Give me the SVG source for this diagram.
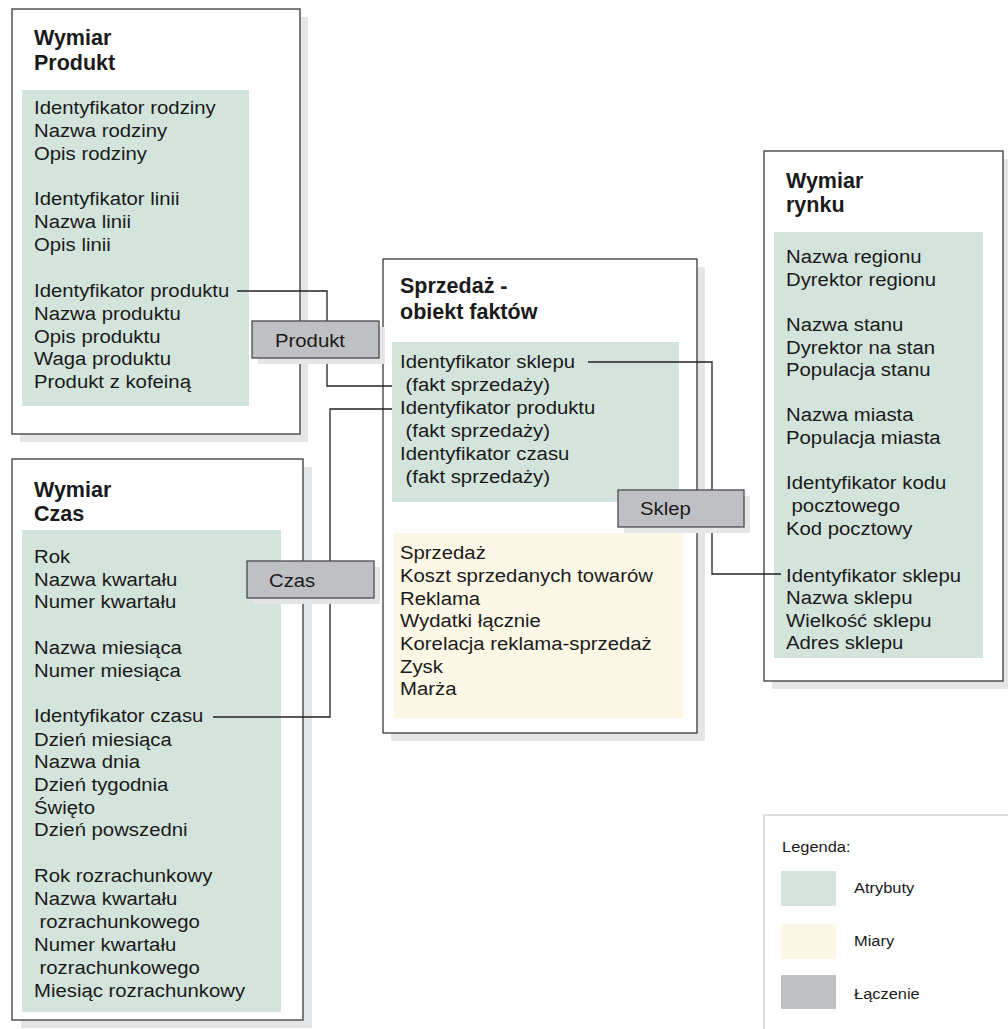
<svg xmlns="http://www.w3.org/2000/svg" width="1008" height="1029" viewBox="0 0 1008 1029">
<style>
.bg{fill:#ffffff}
.shadow{fill:#e4e5e7}
.box{fill:#ffffff;stroke:#3a3a3a;stroke-width:1.3}
.attr{fill:#d3e4dc}
.meas{fill:#fdf8e6}
.join{fill:#bfc0c3;stroke:#4a4a4a;stroke-width:1.3}
.title{font-family:"Liberation Sans",Arial,Helvetica,sans-serif;font-weight:bold;font-size:21.5px;fill:#1a1a1a}
.t{font-family:"Liberation Sans",Arial,Helvetica,sans-serif;font-size:19px;fill:#1a1a1a}
.lg{font-family:"Liberation Sans",Arial,Helvetica,sans-serif;font-size:15.5px;fill:#1a1a1a}
.conn{fill:none;stroke:#222222;stroke-width:1.3}
</style>
<rect class="bg" x="0" y="0" width="1008" height="1029"/>

<g id="wymiar-produkt">
<rect class="shadow" x="20" y="17" width="288" height="425"/>
<rect class="box" x="12" y="9" width="288" height="425"/>
<rect class="attr" x="22" y="90" width="227" height="316"/>
<text class="title" x="34" y="45">Wymiar</text>
<text class="title" x="34" y="70">Produkt</text>
<g class="t" transform="translate(34 0) scale(1.07 1)">
<text x="0" y="114">Identyfikator rodziny</text>
<text x="0" y="137">Nazwa rodziny</text>
<text x="0" y="160">Opis rodziny</text>
<text x="0" y="205">Identyfikator linii</text>
<text x="0" y="228">Nazwa linii</text>
<text x="0" y="251">Opis linii</text>
<text x="0" y="297">Identyfikator produktu</text>
<text x="0" y="320">Nazwa produktu</text>
<text x="0" y="343">Opis produktu</text>
<text x="0" y="365">Waga produktu</text>
<text x="0" y="388">Produkt z kofeiną</text>
</g>
</g>

<g id="wymiar-czas">
<rect class="shadow" x="21" y="467" width="291" height="561"/>
<rect class="box" x="12" y="459" width="291" height="561"/>
<rect class="attr" x="22" y="530" width="259" height="482"/>
<text class="title" x="34" y="497">Wymiar</text>
<text class="title" x="34" y="521">Czas</text>
<g class="t" transform="translate(34 0) scale(1.07 1)">
<text x="0" y="563">Rok</text>
<text x="0" y="586">Nazwa kwartału</text>
<text x="0" y="608">Numer kwartału</text>
<text x="0" y="654">Nazwa miesiąca</text>
<text x="0" y="677">Numer miesiąca</text>
<text x="0" y="722">Identyfikator czasu</text>
<text x="0" y="746">Dzień miesiąca</text>
<text x="0" y="768">Nazwa dnia</text>
<text x="0" y="791">Dzień tygodnia</text>
<text x="0" y="814">Święto</text>
<text x="0" y="836">Dzień powszedni</text>
<text x="0" y="882">Rok rozrachunkowy</text>
<text x="0" y="905">Nazwa kwartału</text>
<text x="5.2" y="928">rozrachunkowego</text>
<text x="0" y="951">Numer kwartału</text>
<text x="5.2" y="974">rozrachunkowego</text>
<text x="0" y="997">Miesiąc rozrachunkowy</text>
</g>
</g>

<g id="sprzedaz-obiekt-faktow">
<rect class="shadow" x="391" y="267" width="314" height="474"/>
<rect class="box" x="383" y="259" width="314" height="474"/>
<rect class="attr" x="392" y="342" width="287" height="160"/>
<rect class="meas" x="394" y="533" width="289" height="185"/>
<text class="title" x="400" y="293">Sprzedaż -</text>
<text class="title" x="400" y="319">obiekt faktów</text>
<g class="t" transform="translate(400 0) scale(1.07 1)">
<text x="0" y="368">Identyfikator sklepu</text>
<text x="5.2" y="391">(fakt sprzedaży)</text>
<text x="0" y="414">Identyfikator produktu</text>
<text x="5.2" y="437">(fakt sprzedaży)</text>
<text x="0" y="460">Identyfikator czasu</text>
<text x="5.2" y="483">(fakt sprzedaży)</text>
<text x="0" y="559">Sprzedaż</text>
<text x="0" y="582">Koszt sprzedanych towarów</text>
<text x="0" y="605">Reklama</text>
<text x="0" y="627">Wydatki łącznie</text>
<text x="0" y="650">Korelacja reklama-sprzedaż</text>
<text x="0" y="673">Zysk</text>
<text x="0" y="695">Marża</text>
</g>
</g>

<g id="wymiar-rynku">
<rect class="shadow" x="772" y="159" width="239" height="530"/>
<rect class="box" x="764" y="151" width="239" height="530"/>
<rect class="attr" x="774" y="232" width="209" height="426"/>
<text class="title" x="786" y="188">Wymiar</text>
<text class="title" x="786" y="212">rynku</text>
<g class="t" transform="translate(786 0) scale(1.07 1)">
<text x="0" y="263">Nazwa regionu</text>
<text x="0" y="286">Dyrektor regionu</text>
<text x="0" y="331">Nazwa stanu</text>
<text x="0" y="354">Dyrektor na stan</text>
<text x="0" y="376">Populacja stanu</text>
<text x="0" y="421">Nazwa miasta</text>
<text x="0" y="444">Populacja miasta</text>
<text x="0" y="489">Identyfikator kodu</text>
<text x="5.2" y="512">pocztowego</text>
<text x="0" y="535">Kod pocztowy</text>
<text x="0" y="582">Identyfikator sklepu</text>
<text x="0" y="604">Nazwa sklepu</text>
<text x="0" y="627">Wielkość sklepu</text>
<text x="0" y="649">Adres sklepu</text>
</g>
</g>

<g id="connectors">
<polyline class="conn" points="237,291 327,291 327,321"/>
<polyline class="conn" points="327,358 327,386 392,386"/>
<polyline class="conn" points="392,409 330,409 330,561"/>
<polyline class="conn" points="330,598 330,717 213,717"/>
<polyline class="conn" points="588,362 712,362 712,490"/>
<polyline class="conn" points="712,527 712,574 781,574"/>
</g>

<g id="join-produkt">
<rect class="shadow" x="258" y="327" width="127" height="37"/>
<rect class="join" x="252" y="321" width="127" height="37"/>
<text class="t" transform="translate(275 347) scale(1.07 1)">Produkt</text>
</g>

<g id="join-czas">
<rect class="shadow" x="253" y="567" width="127" height="37"/>
<rect class="join" x="247" y="561" width="127" height="37"/>
<text class="t" transform="translate(269 587) scale(1.07 1)">Czas</text>
</g>

<g id="join-sklep">
<rect class="shadow" x="624" y="496" width="126" height="37"/>
<rect class="join" x="618" y="490" width="126" height="37"/>
<text class="t" transform="translate(640 515) scale(1.07 1)">Sklep</text>
</g>

<g id="legenda">
<rect x="764" y="815" width="260" height="230" fill="#ffffff" stroke="#d4d4d4" stroke-width="1.5"/>
<text class="lg" transform="translate(782 852) scale(1.06 1)">Legenda:</text>
<rect class="attr" x="781" y="871" width="55" height="35"/>
<text class="lg" transform="translate(854 893) scale(1.06 1)">Atrybuty</text>
<rect class="meas" x="781" y="924" width="55" height="35"/>
<text class="lg" transform="translate(854 946) scale(1.06 1)">Miary</text>
<rect x="781" y="975" width="55" height="34" fill="#bfc0c3"/>
<text class="lg" transform="translate(854 999) scale(1.06 1)">Łączenie</text>
</g>
</svg>
